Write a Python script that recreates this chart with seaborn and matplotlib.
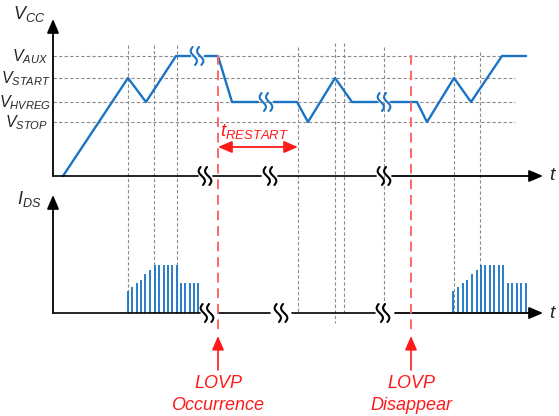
"""
Timing diagram: VCC and IDS around LOVP occurrence / disappear
"""

import numpy as np
import pandas as pd
import matplotlib
matplotlib.use('Agg')
import matplotlib.pyplot as plt
import seaborn as sns

# Configuration
BLUE = '#1a73c4'
RED = '#ff1a1a'
RED_DASH = '#ff6666'
GRAY = '#8c8c8c'

# Levels (canvas units, y grows downward)
TOP_BASE = 176
BOT_BASE = 313
LEVELS = [56, 78, 102, 122]
LEVEL_LABELS = [r'$V_{AUX}$', r'$V_{START}$', r'$V_{HVREG}$', r'$V_{STOP}$']
LEVEL_LABEL_X = [48, 51, 51, 48]

# VCC waveform, split where the time axis is broken
vcc_t = [[63, 128, 146, 176, 190],
         [205, 218, 232, 258],
         [274, 297, 308, 335, 352, 377],
         [391, 417, 427, 454, 471, 502, 526]]
vcc_v = [[176, 78, 102, 56, 56],
         [56, 56, 102, 102],
         [102, 102, 122, 78, 102, 102],
         [102, 102, 122, 78, 102, 56, 56]]
wave_breaks = [(197, 56), (266, 102), (384, 102)]

# time axis pieces
top_axis = [(53, 198), (213, 261), (278, 376), (392, 543)]
top_breaks = [205, 270, 384]
bot_axis = [(53, 200), (218, 270), (292, 375), (395, 543)]
bot_breaks = [207, 281, 383]

# IDS switching bursts
burst1_t = [128, 132.3, 136.7, 141, 145.3, 149.7, 155, 159.3, 163.7,
            168, 172.3, 176.7, 181, 185.3, 189.7, 194, 198.3]
burst2_t = [453.3, 458, 462.7, 467.3, 471.7, 476.7, 480.7, 485.3, 490,
            494.3, 499, 503.3, 507.7, 512.3, 517, 521.3, 526]
burst_h = [21.7, 26, 30, 33, 39, 43, 48, 48, 48, 48, 48, 48,
           30, 30, 30, 30, 30]

# guide lines
vguide_x = [128, 154, 177, 298, 335, 344, 384, 454, 480]
vguide_top = [45, 45, 45, 47, 43, 43, 47, 55, 52]
vguide_bot = [313, 313, 313, 313, 323, 313, 313, 313, 313]
hguide_x = (53, 515)

lovp_x = [218, 411]
lovp_text = [['LOVP', 'Occurrence'], ['LOVP', 'Disappear']]
restart_span = (218, 298)


def draw_break(ax, cx, cy, color, h=18):
    """Double squiggle used as axis break"""
    s = np.linspace(-1, 1, 40)
    for off in (-3.2, 3.2):
        x = cx + off + 2.5 * np.sin(np.pi * s) + 1.2 * s
        y = cy + s * h / 2
        ax.plot(x, y, color=color, lw=1.5, zorder=5, solid_capstyle='round')


def arrow(ax, start, tip, color='black', lw=1.3,
          style='-|>,head_length=0.7,head_width=0.3'):
    ax.annotate('', xy=tip, xytext=start,
                arrowprops=dict(arrowstyle=style, color=color, lw=lw,
                                shrinkA=0, shrinkB=0), zorder=6)


def main():
    sns.set_theme(style='white')
    plt.rcParams['font.family'] = ['Liberation Sans', 'DejaVu Sans']
    plt.rcParams['mathtext.fontset'] = 'custom'
    plt.rcParams['mathtext.it'] = 'Liberation Sans:italic'
    plt.rcParams['mathtext.rm'] = 'Liberation Sans'

    fig = plt.figure(figsize=(5.59, 4.16), dpi=100)
    ax = fig.add_axes([0, 0, 1, 1])
    ax.set_xlim(0, 559)
    ax.set_ylim(416, 0)
    ax.axis('off')

    # guides
    for y in LEVELS:
        ax.hlines(y, *hguide_x, color=GRAY, lw=0.8, linestyles=(0, (3, 2)), zorder=1)
    ax.vlines(vguide_x, vguide_top, vguide_bot, color=GRAY, lw=0.8,
              linestyles=(0, (3, 2)), zorder=1)

    # level labels
    for y, lab, x in zip(LEVELS, LEVEL_LABELS, LEVEL_LABEL_X):
        ax.text(x, y + 1, lab, ha='right', va='center', fontsize=11.5)

    # axes
    for x0, x1 in top_axis[:-1]:
        ax.plot([x0, x1], [TOP_BASE, TOP_BASE], color='black', lw=1.2, zorder=4)
    arrow(ax, (top_axis[-1][0], TOP_BASE), (top_axis[-1][1], TOP_BASE))
    for x0, x1 in bot_axis[:-1]:
        ax.plot([x0, x1], [BOT_BASE, BOT_BASE], color='black', lw=1.2, zorder=4)
    arrow(ax, (bot_axis[-1][0], BOT_BASE), (bot_axis[-1][1], BOT_BASE))
    arrow(ax, (53, TOP_BASE), (53, 19))
    arrow(ax, (53, BOT_BASE), (53, 195))
    for cx in top_breaks:
        draw_break(ax, cx, TOP_BASE, 'black')
    for cx in bot_breaks:
        draw_break(ax, cx, BOT_BASE, 'black')

    ax.text(13, 14, r'$V_{CC}$', ha='left', va='center', fontsize=13)
    ax.text(17, 199, r'$I_{DS}$', ha='left', va='center', fontsize=13)
    ax.text(549, 176, r'$t$', ha='left', va='center', fontsize=14)
    ax.text(549, 313, r'$t$', ha='left', va='center', fontsize=14)

    # VCC waveform
    rows = []
    for k, (ts, vs) in enumerate(zip(vcc_t, vcc_v)):
        for t, v in zip(ts, vs):
            rows.append({'t': t, 'v': v, 'seg': k})
    df = pd.DataFrame(rows)
    sns.lineplot(data=df, x='t', y='v', units='seg', estimator=None, sort=False,
                 color=BLUE, lw=1.7, ax=ax, zorder=3)
    for cx, cy in wave_breaks:
        draw_break(ax, cx, cy, BLUE)

    # IDS bursts
    for ts in (burst1_t, burst2_t):
        ax.vlines(ts, BOT_BASE, BOT_BASE - np.array(burst_h), color=BLUE,
                  lw=1.3, zorder=3)

    # LOVP markers
    for x, (l1, l2) in zip(lovp_x, lovp_text):
        ax.vlines(x, 55, 330, color=RED_DASH, lw=1.4, linestyles=(0, (5, 3)), zorder=7)
        arrow(ax, (x, 370), (x, 336), color=RED, lw=1.2)
        ax.text(x, 384, l1, ha='center', va='center', fontsize=13,
                style='italic', color=RED)
        ax.text(x, 406, l2, ha='center', va='center', fontsize=13,
                style='italic', color=RED)

    # restart time
    ax.annotate('', xy=(restart_span[0], 147), xytext=(restart_span[1], 147),
                arrowprops=dict(arrowstyle='<|-|>,head_length=0.7,head_width=0.3',
                                color=RED, lw=1.3, shrinkA=0, shrinkB=0), zorder=6)
    ax.text(sum(restart_span) / 2 - 3, 136, r'$t_{RESTART}$', ha='center',
            va='baseline', fontsize=13.5, color=RED)

    fig.savefig('out.png', dpi=100)


if __name__ == '__main__':
    main()
